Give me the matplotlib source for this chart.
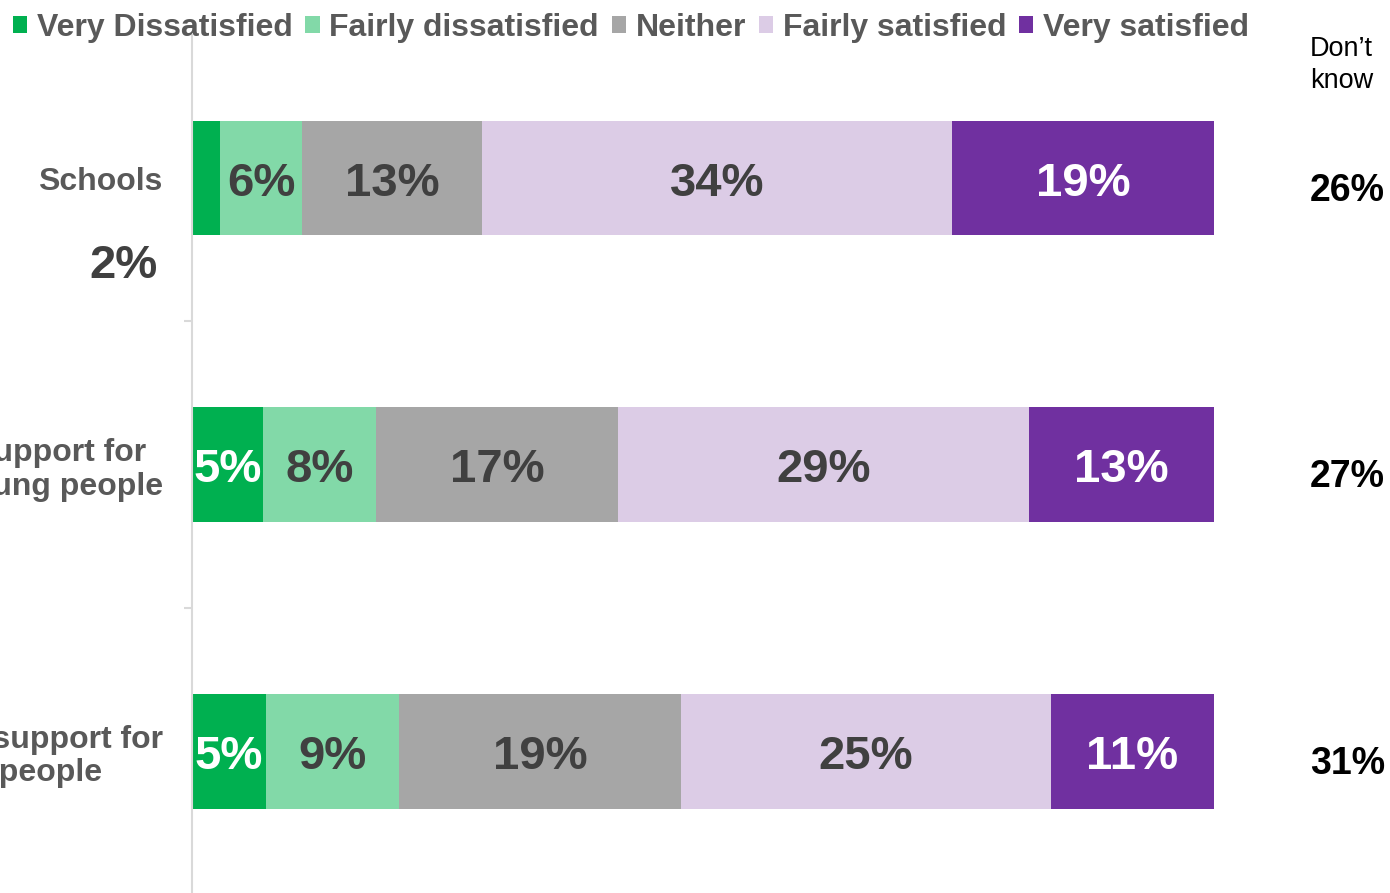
"""Satisfaction with services for young people, stacked horizontal bars."""

import matplotlib.pyplot as plt
from matplotlib.patches import Patch
from matplotlib.ticker import FixedLocator

categories = ["Schools", "Support for\nyoung people", "Wellbeing support for\nyoung people"]
levels = ["Very Dissatisfied", "Fairly dissatisfied", "Neither", "Fairly satisfied", "Very satisfied"]
very_dissatisfied = [2, 5, 5]
fairly_dissatisfied = [6, 8, 9]
neither = [13, 17, 19]
fairly_satisfied = [34, 29, 25]
very_satisfied = [19, 13, 11]
dont_know = [26, 27, 31]

colors = ["#00B050", "#82D9A8", "#A6A6A6", "#DCCCE6", "#7030A0"]
label_colors = ["white", "#404040", "#404040", "#404040", "white"]

plt.rcParams["font.family"] = ["Liberation Sans", "DejaVu Sans"]

series = [very_dissatisfied, fairly_dissatisfied, neither, fairly_satisfied, very_satisfied]
totals = [sum(s[i] for s in series) for i in range(len(categories))]

fig = plt.figure(figsize=(13.9, 8.93), dpi=100)
ax = fig.add_axes([0.1381, -0.002, 0.7353, 0.963])

ypos = list(range(len(categories)))
left = [0.0] * len(categories)
for vals, color, tcolor in zip(series, colors, label_colors):
    widths = [v / t * 100 for v, t in zip(vals, totals)]
    ax.barh(ypos, widths, left=left, height=0.4, color=color, edgecolor="none")
    for i, (v, w) in enumerate(zip(vals, widths)):
        if w > 4:
            ax.annotate(f"{v}%", xy=(left[i] + w / 2, i), xytext=(0, -4),
                        textcoords="offset points", ha="center", va="center",
                        fontsize=34, fontweight="bold", color=tcolor)
    left = [l + w for l, w in zip(left, widths)]

# small segment labelled outside the bar
ax.annotate(f"{very_dissatisfied[0]}%", xy=(0, 0), xytext=(-25, -63),
            textcoords="offset points", ha="right", va="center",
            fontsize=34, fontweight="bold", color="#404040", annotation_clip=False)

# don't know column
for i, v in enumerate(dont_know):
    ax.annotate(f"{v}%", xy=(100, i), xytext=(96, -9), textcoords="offset points",
                ha="center", va="center", fontsize=27, fontweight="bold",
                color="black", annotation_clip=False)
fig.text(1310 / 1390, 1 - 65 / 893, "Don\u2019t\nknow", ha="left", va="center",
         fontsize=19.5, color="black", linespacing=1.3)

ax.set_xlim(0, 100)
ax.set_ylim(2.5, -0.5)
ax.set_yticks(ypos)
ax.set_yticklabels(categories, fontsize=23, fontweight="bold", color="#595959",
                   multialignment="center", linespacing=1.15)
ax.tick_params(axis="y", which="major", length=0, pad=21)
ax.yaxis.set_minor_locator(FixedLocator([0.5, 1.5]))
ax.tick_params(axis="y", which="minor", length=6, color="#D9D9D9", width=1.5)
ax.set_xticks([])
for side in ["top", "right", "bottom"]:
    ax.spines[side].set_visible(False)
ax.spines["left"].set_color("#D9D9D9")
ax.spines["left"].set_linewidth(1.5)

handles = [Patch(facecolor=c, edgecolor="none") for c in colors]
fig.legend(handles, levels, loc="upper left", bbox_to_anchor=(0.0, 1.0), ncol=5,
           frameon=False, handlelength=0.45, handleheight=0.45, handletextpad=0.3,
           columnspacing=0.4, borderaxespad=0,
           prop={"family": ["Liberation Sans Narrow", "Liberation Sans"],
                 "weight": "bold", "size": 23},
           labelcolor="#595959")

fig.savefig("out.png", dpi=100)
